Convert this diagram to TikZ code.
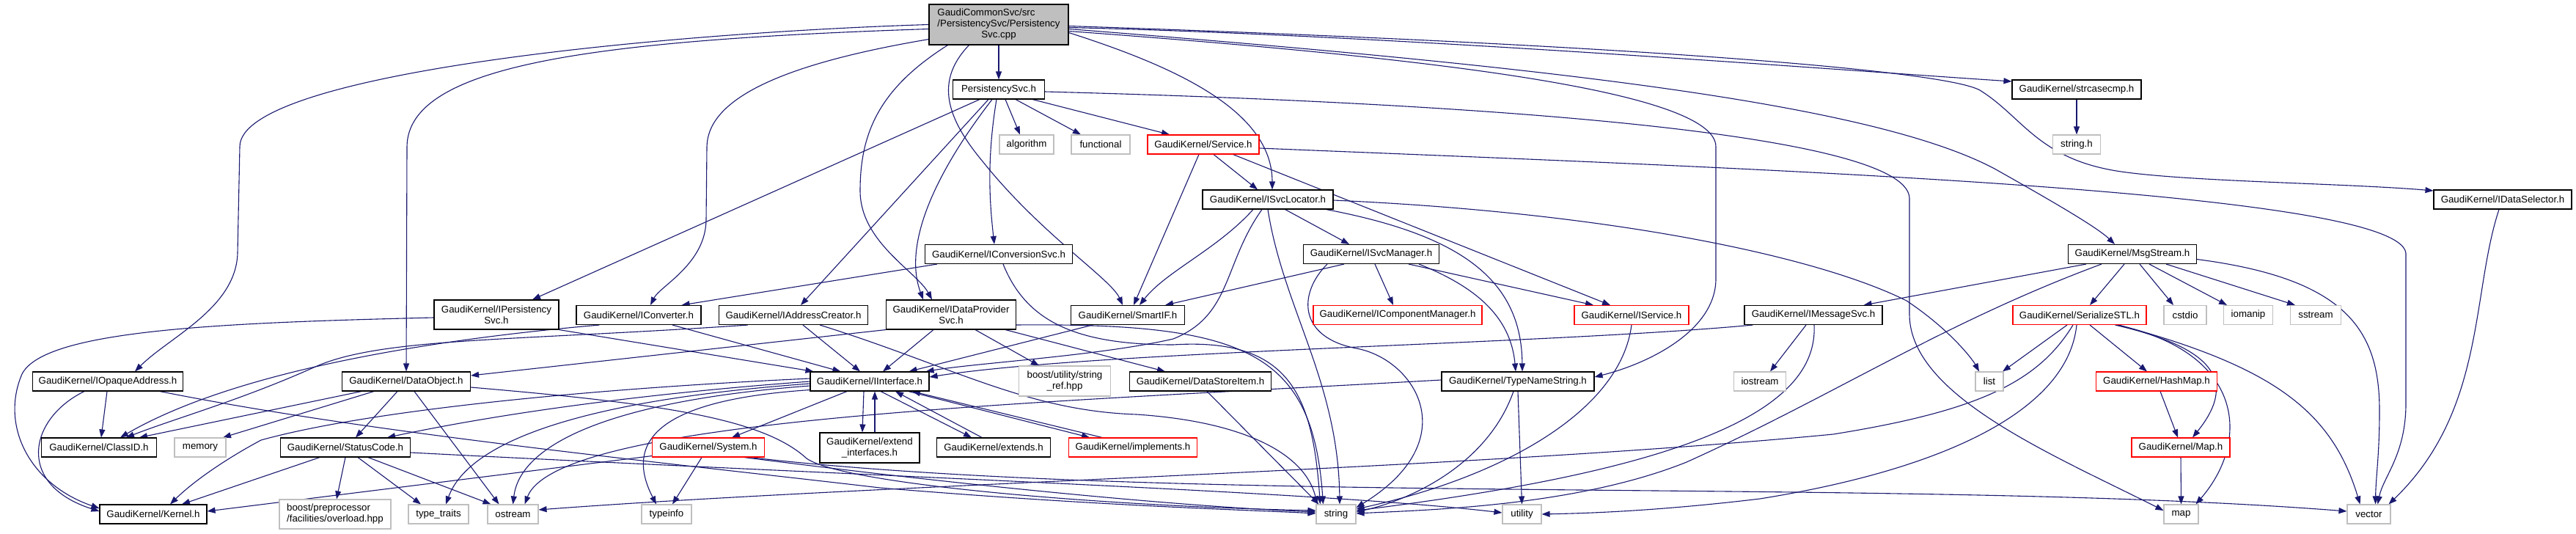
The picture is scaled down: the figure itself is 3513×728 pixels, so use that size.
\documentclass[tikz,border=0pt]{standalone}
\usepackage{fontspec}
\setmainfont{Liberation Sans}
\usetikzlibrary{arrows.meta,calc,backgrounds}
\definecolor{edgecol}{HTML}{191970}
\definecolor{sysgray}{HTML}{BFBFBF}
\definecolor{rootfill}{HTML}{BFBFBF}
\tikzset{
  box/.style={rectangle, inner sep=0pt, fill=white, line width=1.1pt, font=\fontsize{13.3}{15}\selectfont, align=center},
  blk/.style={box, draw=black},
  redbox/.style={box, draw=red},
  sysbox/.style={box, draw=sysgray},
  rootbox/.style={box, draw=black, fill=rootfill},
  sz/.style 2 args={minimum width=#1, minimum height=#2},
  dep/.style={draw=edgecol, line width=1.1pt, -{Triangle[length=11pt,width=8pt]}},
}
\begin{document}
\begin{tikzpicture}[x=1pt,y=-1pt]
\useasboundingbox (0,0) rectangle (3513,728);
\begin{scope}[on background layer]
\fill[white] (0,0) rectangle (3513,728);
\end{scope}
% nodes
\node[rootbox, sz={190pt}{55pt}] (root) at (1362,33.5) {\begin{tabular}{@{}l@{}}GaudiCommonSvc/src\\/PersistencySvc/Persistency\\\multicolumn{1}{@{}c@{}}{Svc.cpp}\end{tabular}};
\node[blk, sz={125pt}{26pt}] (psvch) at (1362,122) {PersistencySvc.h};
\node[sysbox, sz={74pt}{26pt}] (algo) at (1400,197) {algorithm};
\node[sysbox, sz={80pt}{26pt}] (func) at (1501,197) {functional};
\node[redbox, sz={152pt}{26pt}] (service) at (1641,197) {GaudiKernel/Service.h};
\node[blk, sz={178pt}{26pt}] (isvcloc) at (1729,272) {GaudiKernel/ISvcLocator.h};
\node[blk, sz={201pt}{26pt}] (iconvsvc) at (1362,346.5) {GaudiKernel/IConversionSvc.h};
\node[blk, sz={185pt}{26pt}] (isvcmgr) at (1870,346.5) {GaudiKernel/ISvcManager.h};
\node[blk, sz={176pt}{26pt}] (strcase) at (2832,122) {GaudiKernel/strcasecmp.h};
\node[sysbox, sz={65pt}{26pt}] (stringh) at (2832,197) {string.h};
\node[blk, sz={188pt}{26pt}] (idatasel) at (3413,272) {GaudiKernel/IDataSelector.h};
\node[blk, sz={175pt}{26pt}] (msgstream) at (2908,346.5) {GaudiKernel/MsgStream.h};
\node[blk, sz={170pt}{40pt}] (ipersist) at (677,429) {GaudiKernel/IPersistency\\Svc.h};
\node[blk, sz={170pt}{26pt}] (iconverter) at (871,429.5) {GaudiKernel/IConverter.h};
\node[blk, sz={203pt}{26pt}] (iaddr) at (1082,429.5) {GaudiKernel/IAddressCreator.h};
\node[blk, sz={177pt}{40pt}] (idataprov) at (1297,429) {GaudiKernel/IDataProvider\\Svc.h};
\node[blk, sz={155pt}{26pt}] (smartif) at (1538,429.5) {GaudiKernel/SmartIF.h};
\node[redbox, sz={230pt}{26pt}] (icompmgr) at (1906,429.5) {GaudiKernel/IComponentManager.h};
\node[redbox, sz={156pt}{26pt}] (iservice) at (2225,429.5) {GaudiKernel/IService.h};
\node[blk, sz={188pt}{26pt}] (imsgsvc) at (2473,429.5) {GaudiKernel/IMessageSvc.h};
\node[redbox, sz={182pt}{26pt}] (serialize) at (2836,429.5) {GaudiKernel/SerializeSTL.h};
\node[sysbox, sz={58pt}{26pt}] (cstdio) at (2980,429.5) {cstdio};
\node[sysbox, sz={67pt}{26pt}] (iomanip) at (3066,429.5) {iomanip};
\node[sysbox, sz={69pt}{26pt}] (sstream) at (3158,429.5) {sstream};
\node[blk, sz={205pt}{26pt}] (iopaque) at (147,520) {GaudiKernel/IOpaqueAddress.h};
\node[blk, sz={175pt}{26pt}] (dataobj) at (554,520) {GaudiKernel/DataObject.h};
\node[blk, sz={162pt}{26pt}] (iinterface) at (1186,520) {GaudiKernel/IInterface.h};
\node[sysbox, sz={125pt}{41pt}] (boostref) at (1452,519.5) {boost/utility/string\\\_ref.hpp};
\node[blk, sz={193pt}{26pt}] (dsitem) at (1637,520) {GaudiKernel/DataStoreItem.h};
\node[blk, sz={208pt}{26pt}] (typename) at (2070,520) {GaudiKernel/TypeNameString.h};
\node[sysbox, sz={71pt}{26pt}] (iostream) at (2400,520) {iostream};
\node[sysbox, sz={38pt}{26pt}] (list) at (2713,520) {list};
\node[redbox, sz={165pt}{26pt}] (hashmap) at (2941,520) {GaudiKernel/HashMap.h};
\node[blk, sz={157pt}{26pt}] (classid) at (135,610) {GaudiKernel/ClassID.h};
\node[sysbox, sz={70pt}{26pt}] (memory) at (273,610) {memory};
\node[blk, sz={177pt}{26pt}] (statuscode) at (471,610) {GaudiKernel/StatusCode.h};
\node[redbox, sz={153pt}{26pt}] (system) at (966,610) {GaudiKernel/System.h};
\node[blk, sz={136pt}{41pt}] (extendif) at (1186,610.5) {GaudiKernel/extend\\\_interfaces.h};
\node[blk, sz={155pt}{26pt}] (extends) at (1355,610) {GaudiKernel/extends.h};
\node[redbox, sz={175pt}{26pt}] (implements) at (1545,610) {GaudiKernel/implements.h};
\node[redbox, sz={134pt}{26pt}] (mapH) at (2974,610) {GaudiKernel/Map.h};
\node[blk, sz={146pt}{26pt}] (kernel) at (209,701) {GaudiKernel/Kernel.h};
\node[sysbox, sz={152pt}{40pt}] (boostpp) at (457,701) {\begin{tabular}{@{}l@{}}boost/preprocessor\\/facilities/overload.hpp\end{tabular}};
\node[sysbox, sz={82pt}{26pt}] (typetraits) at (598,701) {type\_traits};
\node[sysbox, sz={69pt}{26pt}] (ostream) at (699.5,701) {ostream};
\node[sysbox, sz={68pt}{26pt}] (typeinfo) at (909,701) {typeinfo};
\node[sysbox, sz={54pt}{26pt}] (string) at (1822,701) {string};
\node[sysbox, sz={53pt}{26pt}] (utility) at (2075.5,701) {utility};
\node[sysbox, sz={47pt}{26pt}] (map) at (2974.5,701) {map};
\node[sysbox, sz={59pt}{26pt}] (vector) at (3230.5,701) {vector};
% edges
\begin{scope}[on background layer]
% root
\draw[dep] (root.south) -- (psvch.north);
\draw[dep] (root.west) .. controls (900,45) and (327,100) .. (327,200) -- (324,345) .. controls (322,420) and (230,460) .. ($(iopaque.north)+(37,0)$);
\draw[dep] ($(root.west)+(0,6)$) .. controls (800,55) and (556,90) .. (555,200) -- (dataobj.north);
\draw[dep] ($(root.south west)+(0,-8)$) .. controls (1050,90) and (965,140) .. (964,200) -- (963,300) .. controls (962,360) and (900,390) .. ($(iconverter.north)+(16,0)$);
\draw[dep] ($(root.south west)+(26,0)$) .. controls (1200,120) and (1173,180) .. (1173,260) .. controls (1173,330) and (1250,370) .. ($(idataprov.north)+(-26,0)$);
\draw[dep] ($(root.south west)+(55,0)$) .. controls (1275,110) and (1290,160) .. (1340,220) .. controls (1420,320) and (1515,380) .. ($(smartif.north)+(-7,0)$);
\draw[dep] ($(root.east)+(0,11)$) .. controls (1600,90) and (1735,150) .. ($(isvcloc.north)+(6,0)$);
\draw[dep] ($(root.east)+(0,9)$) .. controls (1900,75) and (2340,120) .. (2340,200) -- (2340,380) .. controls (2340,450) and (2250,495) .. ($(typename.east)+(0,-6)$);
\draw[dep] ($(root.east)+(0,6)$) .. controls (2100,90) and (2550,140) .. (2720,230) .. controls (2800,275) and (2860,310) .. ($(msgstream.north)+(-24,0)$);
\draw[dep] ($(root.east)+(0,4)$) .. controls (1900,48) and (2500,95) .. ($(strcase.west)+(0,-11)$);
\draw[dep] ($(root.east)+(0,2)$) .. controls (2200,60) and (2650,95) .. (2700,123) .. controls (2760,160) and (2780,220) .. (2900,235) .. controls (3000,248) and (3200,250) .. ($(idatasel.west)+(0,-12)$);
% PersistencySvc.h
\draw[dep] ($(psvch.south)+(-26,0)$) -- ($(ipersist.north)+(49,0)$);
\draw[dep] ($(psvch.south)+(-14,0)$) -- ($(iaddr.north)+(10,0)$);
\draw[dep] ($(psvch.south)+(-9,0)$) .. controls (1280,230) and (1230,330) .. ($(idataprov.north)+(-38,0)$);
\draw[dep] ($(psvch.south)+(-3,0)$) .. controls (1345,220) and (1350,280) .. ($(iconvsvc.north)+(-6,0)$);
\draw[dep] ($(psvch.south)+(9,0)$) -- ($(algo.north)+(-9,0)$);
\draw[dep] ($(psvch.south)+(23,0)$) -- ($(func.north)+(-27,0)$);
\draw[dep] ($(psvch.south east)+(-17,0)$) -- ($(service.north)+(-46,0)$);
\draw[dep] ($(psvch.east)+(0,3)$) .. controls (2000,140) and (2600,180) .. (2604,270) -- (2604,430) .. controls (2606,540) and (2800,620) .. ($(map.west)+(0,-5)$);
% Service.h
\draw[dep] ($(service.south)+(14,0)$) -- ($(isvcloc.north)+(-14,0)$);
\draw[dep] ($(service.south)+(-6,0)$) -- ($(smartif.north)+(8,0)$);
\draw[dep] ($(service.south east)+(-36,0)$) -- ($(iservice.north)+(-29,0)$);
\draw[dep] ($(service.east)+(0,5)$) .. controls (2400,230) and (3270,260) .. (3281,345) -- (3281,550) .. controls (3281,620) and (3250,650) .. ($(vector.north)+(12,0)$);
% ISvcLocator.h
\draw[dep] ($(isvcloc.south)+(-20,0)$) .. controls (1660,340) and (1590,370) .. ($(smartif.north)+(16,0)$);
\draw[dep] ($(isvcloc.south)+(-8,0)$) .. controls (1668,360) and (1680,430) .. (1600,462) .. controls (1500,485) and (1330,495) .. ($(iinterface.north east)+(-5,0)$);
\draw[dep] (isvcloc.south) .. controls (1750,420) and (1825,520) .. ($(string.north)+(5,0)$);
\draw[dep] ($(isvcloc.south east)+(-66,0)$) -- ($(isvcmgr.north)+(-30,0)$);
\draw[dep] ($(isvcloc.east)+(0,1)$) .. controls (2200,290) and (2480,350) .. (2600,410) .. controls (2660,450) and (2690,490) .. ($(list.north)+(-14,0)$);
\draw[dep] ($(isvcloc.south east)+(-10,0)$) .. controls (1990,320) and (2075,380) .. ($(typename.north)+(6,0)$);
% IConversionSvc.h
\draw[dep] ($(iconvsvc.south west)+(17,0)$) -- ($(iconverter.north east)+(-27,0)$);
\draw[dep] ($(iconvsvc.south)+(6,0)$) .. controls (1400,440) and (1470,470) .. (1600,470) .. controls (1760,460) and (1790,540) .. ($(string.north west)+(6,0)$);
% ISvcManager.h
\draw[dep] ($(isvcmgr.south west)+(56,0)$) -- ($(smartif.north east)+(-27,0)$);
\draw[dep] ($(isvcmgr.south)+(5,0)$) -- ($(icompmgr.north)+(-6,0)$);
\draw[dep] ($(isvcmgr.south)+(51,0)$) -- ($(iservice.north)+(-52,0)$);
\draw[dep] ($(isvcmgr.south)+(65,0)$) .. controls (2010,390) and (2060,430) .. ($(typename.north)+(-3,0)$);
\draw[dep] ($(isvcmgr.south west)+(33,0)$) .. controls (1770,400) and (1770,460) .. (1850,475) .. controls (1930,490) and (2000,600) .. ($(string.east)+(0,-9)$);
% IConverter.h
\draw[dep] ($(iconverter.south)+(46,0)$) -- ($(iinterface.north west)+(42,0)$);
\draw[dep] ($(iconverter.south west)+(32,0)$) .. controls (620,460) and (330,500) .. ($(classid.north)+(29,0)$);
% IAddressCreator.h
\draw[dep] ($(iaddr.south)+(13,0)$) -- ($(iinterface.north)+(-13,0)$);
\draw[dep] ($(iaddr.south west)+(40,0)$) .. controls (700,465) and (520,460) .. (430,500) .. controls (330,545) and (240,570) .. ($(classid.north)+(37,0)$);
\draw[dep] ($(iaddr.south east)+(-66,0)$) .. controls (1300,500) and (1400,560) .. (1550,565) .. controls (1700,575) and (1780,620) .. ($(string.north west)+(2,0)$);
% IDataProviderSvc.h
\draw[dep] ($(idataprov.south)+(-24,0)$) -- ($(iinterface.north)+(18,0)$);
\draw[dep] (idataprov.south west) -- ($(dataobj.east)+(0,-8)$);
\draw[dep] ($(idataprov.south)+(33,0)$) -- ($(boostref.north)+(-35,0)$);
\draw[dep] ($(idataprov.south east)+(-15,0)$) -- ($(dsitem.north)+(-48,0)$);
\draw[dep] ($(idataprov.east)+(0,14)$) .. controls (1700,440) and (1790,480) .. ($(string.north west)+(10,0)$);
% SmartIF.h
\draw[dep] ($(smartif.south west)+(30,0)$) -- ($(iinterface.north east)+(-28,0)$);
% IInterface.h
\draw[dep] ($(iinterface.south)+(-31,0)$) -- ($(system.north)+(32,0)$);
\draw[dep] ($(iinterface.south)+(-8,0)$) -- ($(extendif.north)+(-10,0)$);
\draw[dep] ($(iinterface.south)+(15,0)$) -- ($(extends.north)+(-30,0)$);
\draw[dep] ($(iinterface.south)+(53,0)$) -- ($(implements.north)+(-59,0)$);
\draw[dep] ($(extendif.north)+(7,0)$) -- ($(iinterface.south)+(7,0)$);
\draw[dep] ($(extends.north)+(-16,0)$) -- ($(iinterface.south)+(35,0)$);
\draw[dep] ($(implements.north)+(-42,0)$) -- ($(iinterface.south)+(58,0)$);
\draw[dep] ($(iinterface.west)+(0,-4)$) .. controls (800,530) and (500,560) .. (356,600) .. controls (300,630) and (260,660) .. ($(kernel.north)+(23,0)$);
\draw[dep] (iinterface.west) .. controls (900,535) and (700,560) .. ($(statuscode.north east)+(-32,0)$);
\draw[dep] ($(iinterface.west)+(0,3)$) .. controls (800,545) and (640,600) .. ($(typetraits.north)+(10,0)$);
\draw[dep] ($(iinterface.west)+(0,6)$) .. controls (850,545) and (710,600) .. (ostream.north);
\draw[dep] ($(iinterface.south west)+(0,-2)$) .. controls (900,545) and (850,600) .. ($(typeinfo.north)+(-14,0)$);
% System.h
\draw[dep] ($(system.south west)+(0,-2)$) -- ($(kernel.east)+(0,-4)$);
\draw[dep] ($(system.south)+(-9,0)$) -- ($(typeinfo.north)+(8,0)$);
\draw[dep] ($(system.south)+(49,0)$) .. controls (1300,660) and (1600,690) .. ($(string.west)+(0,-3)$);
\draw[dep] ($(system.south)+(57,0)$) .. controls (1600,690) and (2600,650) .. ($(vector.west)+(0,-4)$);
% StatusCode.h
\draw[dep] ($(statuscode.south)+(-35,0)$) -- ($(kernel.north)+(39,0)$);
\draw[dep] (statuscode.south) -- ($(boostpp.north)+(2,0)$);
\draw[dep] ($(statuscode.south)+(17,0)$) -- ($(typetraits.north)+(-24,0)$);
\draw[dep] ($(statuscode.south)+(31,0)$) -- ($(ostream.north)+(-30,0)$);
\draw[dep] ($(statuscode.east)+(0,7)$) .. controls (1200,650) and (1800,670) .. ($(utility.west)+(0,-2)$);
% DataObject.h
\draw[dep] ($(dataobj.south west)+(27,0)$) -- ($(classid.north)+(55,0)$);
\draw[dep] ($(dataobj.south west)+(44,0)$) -- ($(memory.north)+(31,0)$);
\draw[dep] ($(dataobj.south)+(-12,0)$) -- ($(statuscode.north)+(14,0)$);
\draw[dep] ($(dataobj.south)+(11,0)$) -- ($(ostream.north)+(-19,0)$);
\draw[dep] ($(dataobj.east)+(0,8)$) .. controls (900,550) and (1040,570) .. (1100,625) .. controls (1150,660) and (1500,690) .. ($(string.west)+(0,-5)$);
% IOpaqueAddress.h
\draw[dep] ($(iopaque.south)+(-1,0)$) -- ($(classid.north)+(3,0)$);
\draw[dep] ($(iopaque.south)+(-32,0)$) .. controls (40,570) and (20,660) .. ($(kernel.west)+(0,-4)$);
\draw[dep] ($(iopaque.south east)+(-32,0)$) .. controls (500,590) and (900,630) .. (1200,665) .. controls (1500,690) and (1700,695) .. ($(string.west)+(0,-1)$);
% IPersistencySvc.h
\draw[dep] ($(ipersist.west)+(0,4)$) .. controls (300,440) and (60,450) .. (30,510) .. controls (0,580) and (40,660) .. ($(kernel.west)+(0,-8)$);
\draw[dep] (ipersist.south east) -- ($(iinterface.north west)+(5,0)$);
% IMessageSvc.h
\draw[dep] ($(imsgsvc.south west)+(12,0)$) .. controls (2100,470) and (1500,478) .. ($(iinterface.east)+(0,-6)$);
\draw[dep] ($(imsgsvc.south)+(-10,0)$) -- ($(iostream.north)+(14,0)$);
\draw[dep] ($(imsgsvc.south)+(1,0)$) .. controls (2480,560) and (2300,640) .. ($(string.east)+(0,-5)$);
% IService.h
\draw[dep] (iservice.south) .. controls (2210,560) and (2050,650) .. ($(string.east)+(0,-7)$);
% TypeNameString.h
\draw[dep] ($(typename.south)+(-6,0)$) .. controls (2030,630) and (1930,680) .. ($(string.east)+(0,-3)$);
\draw[dep] (typename.south) -- (utility.north);
\draw[dep] ($(typename.west)+(0,-2)$) .. controls (1400,550) and (760,570) .. ($(ostream.north)+(16,0)$);
% MsgStream.h
\draw[dep] ($(msgstream.south west)+(25,0)$) -- ($(imsgsvc.north east)+(-26,0)$);
\draw[dep] ($(msgstream.south west)+(46,0)$) .. controls (2650,440) and (2500,540) .. (2300,630) .. controls (2150,690) and (1950,695) .. ($(string.east)+(0,-1)$);
\draw[dep] ($(msgstream.south)+(-11,0)$) -- ($(serialize.north)+(14,0)$);
\draw[dep] ($(msgstream.south)+(10,0)$) -- ($(cstdio.north)+(-16,0)$);
\draw[dep] ($(msgstream.south)+(23,0)$) -- ($(iomanip.north)+(-29,0)$);
\draw[dep] ($(msgstream.south)+(46,0)$) -- ($(sstream.north)+(-28,0)$);
\draw[dep] ($(msgstream.east)+(0,7)$) .. controls (3200,380) and (3245,450) .. (3245,560) .. controls (3245,620) and (3240,650) .. ($(vector.north)+(9,0)$);
% SerializeSTL.h
\draw[dep] ($(serialize.south)+(-17,0)$) -- ($(list.north)+(18,0)$);
\draw[dep] ($(serialize.south)+(-9,0)$) .. controls (2780,520) and (2700,560) .. (2500,592) .. controls (2000,640) and (1200,660) .. ($(ostream.east)+(0,-6)$);
\draw[dep] ($(serialize.south)+(-4,0)$) .. controls (2820,560) and (2650,640) .. (2400,680) .. controls (2250,698) and (2150,700) .. (utility.east);
\draw[dep] ($(serialize.south)+(14,0)$) -- ($(hashmap.north)+(-13,0)$);
\draw[dep] ($(serialize.south east)+(-43,0)$) .. controls (3000,470) and (3060,510) .. ($(mapH.north)+(16,0)$);
\draw[dep] ($(serialize.south east)+(-41,0)$) .. controls (3060,480) and (3070,600) .. ($(map.north)+(20,0)$);
\draw[dep] ($(serialize.south east)+(-38,0)$) .. controls (3100,500) and (3180,560) .. ($(vector.north)+(-12,0)$);
% others
\draw[dep] ($(hashmap.south)+(5,0)$) -- ($(mapH.north)+(-4,0)$);
\draw[dep] (mapH.south) -- (map.north);
\draw[dep] ($(idatasel.south)+(-5,0)$) .. controls (3370,400) and (3390,560) .. ($(vector.north)+(27,0)$);
\draw[dep] (strcase.south) -- (stringh.north);
\draw[dep] ($(dsitem.south)+(9,0)$) -- ($(string.north west)+(4,0)$);
\end{scope}
\end{tikzpicture}
\end{document}
